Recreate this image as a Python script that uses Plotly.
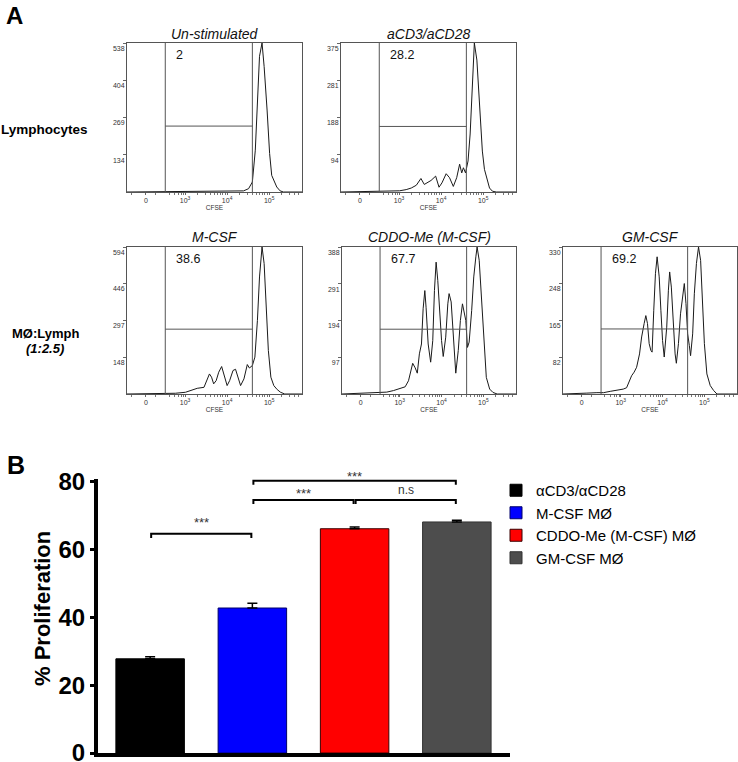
import plotly.graph_objects as go

W, H = 738, 762

def fx(p):
    return p / W
def fy(p):
    return 1 - p / H

FONT = "Arial, Liberation Sans, sans-serif"

# ---------------- Panel A: CFSE histograms ----------------
titles = ["Un-stimulated", "aCD3/aCD28", "M-CSF", "CDDO-Me (M-CSF)", "GM-CSF"]
gate_pct = ["2", "28.2", "38.6", "67.7", "69.2"]
y_max = [538, 375, 594, 388, 330]
y_ticks = [[134, 269, 404, 538], [94, 188, 281, 375], [148, 297, 446, 594],
           [97, 194, 291, 388], [82, 165, 248, 330]]
gate_lo = [2.53, 2.53, 2.53, 2.53, 2.53]
gate_hi = [4.60, 4.60, 4.60, 4.60, 4.60]
gate_level = [238, 165, 262, 171, 146]

cfse_tickvals = [2.07, 3, 4, 5]
cfse_ticktext = ["0", "10<sup>3</sup>", "10<sup>4</sup>", "10<sup>5</sup>"]
cfse_minor = [1.72, 2.30, 2.62, 2.76, 2.85, 2.91, 2.96,
              3.30, 3.48, 3.60, 3.70, 3.78, 3.85, 3.90, 3.95,
              4.30, 4.48, 4.60, 4.70, 4.78, 4.85, 4.90, 4.95,
              5.30, 5.48, 5.60, 5.70]

cfse_unstim = [1.62, 2.20, 2.53, 3.00, 3.50, 4.00, 4.31, 4.39, 4.51, 4.60, 4.67, 4.72, 4.77,
               4.83, 4.88, 4.95, 5.01, 5.06, 5.12, 5.18, 5.26, 5.34, 5.78]
count_unstim = [0, 1, 1, 2, 1, 2, 3, 4, 12, 36, 151, 332, 490, 538, 453, 296, 139, 60, 36,
                18, 4, 0, 0]

cfse_acd3 = [1.62, 2.20, 2.53, 2.77, 3.01, 3.17, 3.29, 3.41, 3.47, 3.52, 3.60, 3.68, 3.76,
             3.87, 3.95, 4.02, 4.12, 4.20, 4.29, 4.37, 4.44, 4.49, 4.53, 4.58, 4.64, 4.69,
             4.74, 4.79, 4.85, 4.91, 4.98, 5.03, 5.09, 5.15, 5.22, 5.31, 5.78]
count_acd3 = [0, 1, 2, 2, 3, 6, 10, 17, 27, 34, 19, 23, 29, 40, 12, 23, 46, 36, 14, 36, 70,
              48, 61, 48, 78, 146, 282, 375, 332, 214, 103, 57, 36, 10, 2, 0, 0]

cfse_mcsf = [1.62, 2.29, 2.53, 2.77, 3.01, 3.17, 3.29, 3.45, 3.52, 3.58, 3.63, 3.68, 3.74,
             3.80, 3.87, 3.93, 4.00, 4.06, 4.14, 4.20, 4.25, 4.32, 4.40, 4.48, 4.53, 4.60,
             4.66, 4.72, 4.77, 4.83, 4.88, 4.93, 4.98, 5.04, 5.11, 5.19, 5.27, 5.37, 5.78]
count_mcsf = [0, 1, 3, 3, 7, 16, 23, 27, 54, 81, 68, 41, 54, 88, 111, 74, 34, 54, 95, 100,
              74, 34, 61, 119, 105, 115, 149, 297, 473, 594, 527, 365, 176, 68, 34, 18, 7, 0, 0]

cfse_cddo = [1.62, 2.06, 2.22, 2.37, 2.53, 2.69, 2.85, 3.01, 3.13, 3.21, 3.26, 3.31, 3.37,
             3.42, 3.47, 3.52, 3.56, 3.60, 3.63, 3.68, 3.74, 3.79, 3.83, 3.87, 3.91, 3.96,
             4.00, 4.04, 4.10, 4.15, 4.18, 4.23, 4.28, 4.34, 4.40, 4.45, 4.50, 4.54, 4.58,
             4.62, 4.66, 4.72, 4.77, 4.82, 4.85, 4.90, 4.95, 5.01, 5.07, 5.15, 5.23, 5.33, 5.78]
count_cddo = [0, 2, 4, 4, 4, 5, 9, 14, 19, 35, 62, 81, 69, 55, 106, 132, 225, 273, 229, 132,
              84, 141, 273, 348, 300, 203, 141, 99, 150, 238, 265, 243, 159, 55, 115, 194,
              238, 220, 194, 123, 137, 220, 309, 362, 388, 353, 265, 132, 44, 13, 4, 0, 0]

cfse_gmcsf = [1.62, 1.95, 2.19, 2.43, 2.59, 2.75, 2.91, 3.06, 3.14, 3.21, 3.26, 3.32, 3.38,
              3.45, 3.50, 3.56, 3.60, 3.64, 3.68, 3.72, 3.75, 3.79, 3.83, 3.87, 3.92, 3.96,
              4.00, 4.04, 4.10, 4.14, 4.17, 4.21, 4.26, 4.30, 4.33, 4.38, 4.43, 4.48, 4.52,
              4.56, 4.60, 4.64, 4.67, 4.72, 4.76, 4.81, 4.86, 4.91, 4.95, 5.00, 5.06, 5.14,
              5.22, 5.30, 5.78]
count_gmcsf = [0, 2, 2, 3, 3, 6, 8, 11, 14, 30, 41, 49, 60, 90, 128, 158, 176, 158, 113, 98,
               94, 188, 270, 308, 263, 188, 120, 83, 150, 233, 274, 240, 150, 90, 69, 113,
               180, 218, 248, 203, 135, 109, 86, 135, 225, 293, 330, 300, 203, 113, 45, 19,
               8, 0, 0]

hist_x = [cfse_unstim, cfse_acd3, cfse_mcsf, cfse_cddo, cfse_gmcsf]
hist_y = [count_unstim, count_acd3, count_mcsf, count_cddo, count_gmcsf]

# ---------------- Panel B: bar chart ----------------
groups = ["\u03b1CD3/\u03b1CD28", "M-CSF M\u00d8", "CDDO-Me (M-CSF) M\u00d8", "GM-CSF M\u00d8"]
prolif = [27.8, 42.8, 66.2, 68.2]
sem = [0.6, 1.4, 0.5, 0.5]
bar_colors = ["#000000", "#0000ff", "#ff0000", "#4d4d4d"]
bar_edges = ["#000000", "#00006a", "#3a0000", "#333333"]
bracket_pairs = [(0, 1), (1, 2), (2, 3), (1, 3)]
bracket_y = [64.7, 74.7, 74.7, 80.4]
bracket_text = ["***", "***", "n.s", "***"]
bracket_text_y = [68.8, 77.6, 77.6, 82.6]

# layout geometry (pixels)
boxes = [(127, 302, 43, 192), (341, 516, 43, 192), (127, 302, 247, 394),
         (342, 516, 247, 394), (563, 737, 247, 394)]
bar_box = (98, 510, 478.6, 753)
bar_yrange = [0, 81]

fig = go.Figure()
layout = {}
annotations = []

for i in range(5):
    n = "" if i == 0 else str(i + 1)
    xa, ya = "x" + n, "y" + n
    xl, xr, yt, yb = boxes[i]
    fig.add_trace(go.Scatter(x=hist_x[i], y=hist_y[i], xaxis=xa, yaxis=ya, mode="lines",
                             line=dict(color="#1a1a1a", width=1), showlegend=False,
                             hoverinfo="skip"))
    gx = [gate_lo[i], gate_lo[i], None, gate_hi[i], gate_hi[i], None, gate_lo[i], gate_hi[i]]
    gy = [0, y_max[i], None, 0, y_max[i], None, gate_level[i], gate_level[i]]
    fig.add_trace(go.Scatter(x=gx, y=gy, xaxis=xa, yaxis=ya, mode="lines",
                             line=dict(color="#555555", width=1), showlegend=False,
                             hoverinfo="skip"))
    layout["xaxis" + n] = dict(
        domain=[fx(xl), fx(xr)], anchor=ya, range=[1.62, 5.78], automargin=False,
        showline=True, mirror=True, linecolor="#555555", linewidth=1,
        showgrid=False, zeroline=False,
        tickmode="array", tickvals=cfse_tickvals, ticktext=cfse_ticktext,
        ticks="outside", ticklen=2, tickcolor="#666666",
        tickfont=dict(family=FONT, size=7, color="#333333"),
        minor=dict(tickmode="array", tickvals=cfse_minor, ticks="outside", ticklen=2,
                   tickcolor="#777777"),
        title=dict(text="CFSE", font=dict(family=FONT, size=6.5, color="#333333"),
                   standoff=1),
    )
    layout["yaxis" + n] = dict(
        domain=[fy(yb), fy(yt)], anchor=xa, range=[0, y_max[i]], automargin=False,
        showline=True, mirror=True, linecolor="#555555", linewidth=1,
        showgrid=False, zeroline=False,
        tickmode="array", tickvals=y_ticks[i],
        ticks="outside", ticklen=3, tickcolor="#666666",
        ticklabelposition="outside bottom",
        tickfont=dict(family=FONT, size=7, color="#333333"),
    )
    annotations.append(dict(text="<i>" + titles[i] + "</i>", xref="paper", yref="paper",
                            x=fx((xl + xr) / 2), y=fy(yt + 0.5), xanchor="center",
                            yanchor="bottom", showarrow=False,
                            font=dict(family=FONT, size=14, color="#111111")))
    annotations.append(dict(text=gate_pct[i], xref="paper", yref="paper",
                            x=fx(xl + 47), y=fy(yt + 12), xanchor="left",
                            yanchor="middle", showarrow=False,
                            font=dict(family=FONT, size=12.5, color="#111111")))

# row labels, panel letters and the bar-chart axis title
extra = [
    dict(text="<b>A</b>", x=fx(4), y=1, xanchor="left", yanchor="top",
         font=dict(family=FONT, size=24, color="black")),
    dict(text="<b>B</b>", x=fx(5), y=fy(465), xanchor="left", yanchor="middle",
         font=dict(family=FONT, size=25, color="black")),
    dict(text="<b>Lymphocytes</b>", x=fx(44), y=fy(129), xanchor="center", yanchor="middle",
         font=dict(family=FONT, size=13.5, color="black")),
    dict(text="<b>M\u00d8:Lymph</b>", x=fx(45), y=fy(333), xanchor="center",
         yanchor="middle", font=dict(family=FONT, size=13, color="black")),
    dict(text="<b><i>(1:2.5)</i></b>", x=fx(45), y=fy(348), xanchor="center",
         yanchor="middle", font=dict(family=FONT, size=13, color="black")),
    dict(text="<b>% Proliferation</b>", x=fx(42), y=fy(609), xanchor="center",
         yanchor="middle", textangle=-90,
         font=dict(family=FONT, size=22, color="black")),
]
for a in extra:
    a.update(xref="paper", yref="paper", showarrow=False)
annotations += extra

# bar chart
for k in range(4):
    fig.add_trace(go.Bar(
        x=[k], y=[prolif[k]], name=groups[k], xaxis="x6", yaxis="y6", width=0.67,
        marker=dict(color=bar_colors[k], line=dict(color=bar_edges[k], width=1)),
        error_y=dict(type="data", array=[sem[k]], arrayminus=[0], symmetric=False,
                     color="black", thickness=1.5, width=5),
        hoverinfo="skip",
    ))

bx, by = [], []
for (a, b), h in zip(bracket_pairs, bracket_y):
    bx += [a + 0.01, a + 0.01, b - 0.01, b - 0.01, None]
    by += [h - 1.2, h, h, h - 1.2, None]
fig.add_trace(go.Scatter(x=bx, y=by, xaxis="x6", yaxis="y6", mode="lines",
                         line=dict(color="black", width=2), showlegend=False,
                         hoverinfo="skip"))

y6_dom = [fy(bar_box[3]), fy(bar_box[2])]
def y6_to_paper(v):
    return y6_dom[0] + (v - bar_yrange[0]) / (bar_yrange[1] - bar_yrange[0]) * (y6_dom[1] - y6_dom[0])

for (a, b), t, ty in zip(bracket_pairs, bracket_text, bracket_text_y):
    annotations.append(dict(text=t, xref="x6", yref="paper", x=(a + b) / 2, y=y6_to_paper(ty),
                            xanchor="center", yanchor="middle", showarrow=False,
                            yshift=-3 if t.startswith("*") else 0,
                            font=dict(family=FONT, size=13 if t.startswith("*") else 12,
                                      color="#333333")))

layout["xaxis6"] = dict(domain=[fx(bar_box[0]), fx(bar_box[1])], anchor="y6",
                        range=[-0.51, 3.52], automargin=False,
                        showline=True, linecolor="black", linewidth=4, showgrid=False,
                        zeroline=False, showticklabels=False, ticks="")
layout["yaxis6"] = dict(domain=y6_dom, anchor="x6", range=bar_yrange, automargin=False,
                        showline=True, linecolor="black", linewidth=4, showgrid=False,
                        zeroline=False, tickmode="array", tickvals=[0, 20, 40, 60, 80],
                        ticks="outside", ticklen=4, tickwidth=3, tickcolor="black",
                        ticklabeloverflow="allow",
                        tickfont=dict(family=FONT, size=24, color="black", weight="bold"))

fig.update_layout(
    template="none",
    width=W, height=H, margin=dict(l=0, r=0, t=0, b=0, autoexpand=False),
    paper_bgcolor="white", plot_bgcolor="white",
    font=dict(family=FONT, color="#333333"),
    barmode="overlay",
    annotations=annotations,
    showlegend=True,
    legend=dict(x=fx(496), y=fy(474), xanchor="left", yanchor="top",
                font=dict(family=FONT, size=15, color="black"),
                bgcolor="rgba(0,0,0,0)", tracegroupgap=0),
    **layout,
)

fig.write_html(
    "out.html",
    config={"displayModeBar": False},
    post_script="document.body.style.margin='0px';document.body.style.overflow='hidden';",
)
